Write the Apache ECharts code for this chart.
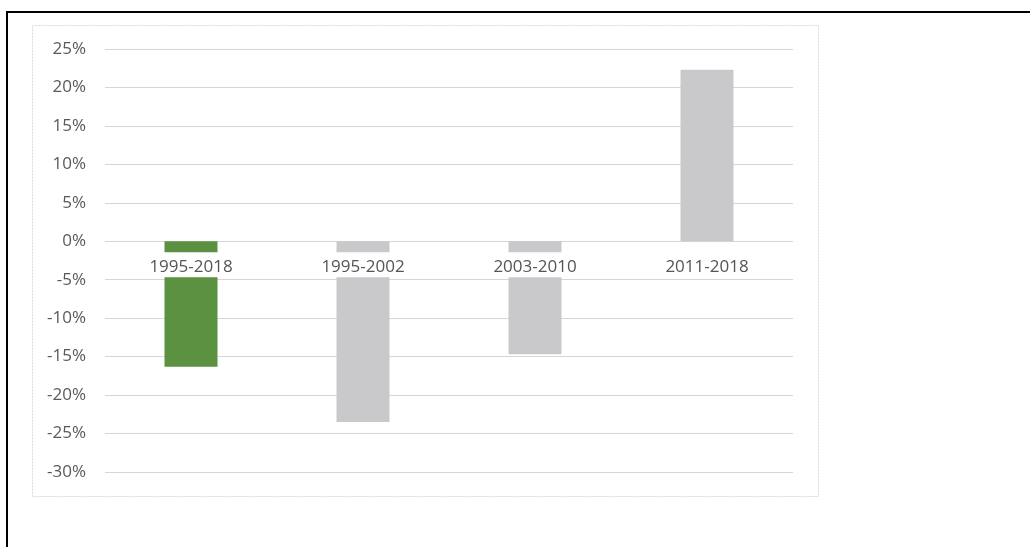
<!DOCTYPE html>
<html>
<head>
<meta charset="utf-8">
<script src="https://cdn.jsdelivr.net/npm/echarts@6/dist/echarts.min.js"></script>
<style>
  html, body { margin: 0; padding: 0; background: #ffffff; }
  #chart { width: 1030px; height: 547px; }
</style>
</head>
<body>
<div id="chart"></div>
<script>
// Periods and their cumulative change (percent)
const periods = ['1995-2018', '1995-2002', '2003-2010', '2011-2018'];
const changes = [-16.3, -23.5, -14.7, 22.3];
// Value-axis range and step (percent)
const axisMin = -30;
const axisMax = 25;
const axisStep = 5;
// The full-period bar is highlighted
const highlightIndex = 0;

const chart = echarts.init(document.getElementById('chart'), null, { renderer: 'canvas' });

const font = '"Open Sans", "Liberation Sans", sans-serif';

chart.setOption({
  animation: false,
  backgroundColor: '#ffffff',
  grid: { left: 105, right: 237, top: 49, bottom: 75, containLabel: false },
  xAxis: {
    type: 'category',
    data: periods,
    axisLine: { show: false },
    axisTick: { show: false },
    splitLine: { show: false },
    axisLabel: { show: false }
  },
  yAxis: {
    type: 'value',
    min: axisMin,
    max: axisMax,
    interval: axisStep,
    axisLine: { show: false },
    axisTick: { show: false },
    splitLine: { show: true, lineStyle: { color: '#d6d6d6', width: 1 } },
    axisLabel: {
      color: '#595959',
      fontFamily: font,
      fontSize: 17,
      margin: 19,
      formatter: v => v + '%'
    }
  },
  series: [
    {
      type: 'bar',
      barWidth: 53,
      z: 2,
      data: changes.map((v, i) => ({
        value: v,
        itemStyle: { color: i === highlightIndex ? '#5b9140' : '#c9c9cc' }
      }))
    },
    {
      // category names sitting just under the zero line, knocked out of the bars
      type: 'scatter',
      z: 5,
      symbolSize: 0,
      silent: true,
      itemStyle: { color: 'transparent', opacity: 1 },
      data: periods.map(p => [p, 0]),
      label: {
        show: true,
        position: 'bottom',
        distance: 11,
        formatter: p => periods[p.dataIndex],
        color: '#555555',
        opacity: 1,
        fontFamily: font,
        fontSize: 17,
        lineHeight: 18,
        padding: [6, 6, 1, 6],
        backgroundColor: '#ffffff'
      }
    }
  ],
  graphic: [
    // page frame: top and left rules
    { type: 'line', shape: { x1: 6, y1: 12, x2: 1030, y2: 12 }, style: { stroke: '#000000', lineWidth: 2 }, silent: true },
    { type: 'line', shape: { x1: 7, y1: 11, x2: 7, y2: 547 }, style: { stroke: '#000000', lineWidth: 2 }, silent: true },
    // chart area border
    { type: 'rect', shape: { x: 32.5, y: 25.5, width: 786, height: 471 }, style: { fill: 'none', stroke: '#dadada', lineWidth: 1, lineDash: [2, 1] }, silent: true, z: -1 }
  ]
});
</script>
</body>
</html>
